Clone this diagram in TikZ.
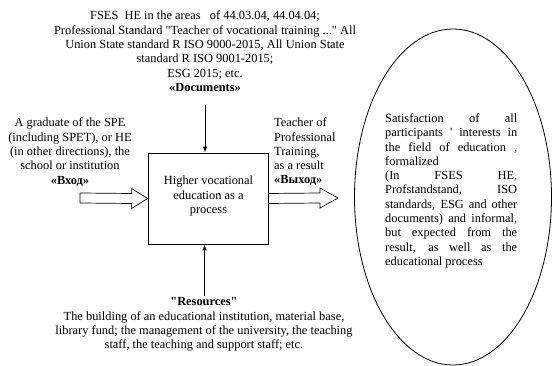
\documentclass[tikz,border=0pt]{standalone}
\usepackage{fontspec}
\setmainfont{Liberation Serif}[Ligatures=TeXOff]
\usetikzlibrary{calc,shapes.geometric,arrows.meta}
\begin{document}
\begin{tikzpicture}[x=1pt,y=-1pt,
  txt/.style={inner sep=0pt,font=\fontsize{12.4}{14.3}\selectfont,align=center},
  hollow/.style={draw,line width=0.7pt,fill=white},
  conn/.style={draw,line width=0.8pt,-{Latex[length=6pt,width=4.5pt]}}]
\useasboundingbox (0,0) rectangle (552,366);
% process box
\node[draw,line width=0.8pt,minimum width=120pt,minimum height=91pt,inner sep=0pt] (box) at (208,198.5) {};
\node[txt,anchor=base] (boxtxt) at (208.5,213.6) {Higher vocational\\education as a\\process};
% ellipse
\node[draw,ellipse,line width=0.8pt,minimum width=197pt,minimum height=336pt,inner sep=0pt] (ell) at (453,197) {};
\node[txt,align=justify,text width=132pt,anchor=base west] (elltxt) at (385,122.5)
 {Satisfaction of all\linebreak participants ' interests in\linebreak the field of education ,\linebreak
 formalized\\
 (In FSES HE,\linebreak Profstandstand, ISO\linebreak standards, ESG and other\linebreak documents) and informal,\linebreak but expected from the\linebreak result, as well as the\linebreak
 educational process};
% top text
\node[txt,anchor=base] (doc) at (205,91.5)
 {FSES\ \ HE in the areas\ \ \ of 44.03.04, 44.04.04;\\
 Professional Standard "Teacher of vocational training ..." All\\
 Union State standard R ISO 9000-2015, All Union State\\
 standard R ISO 9001-2015;\\
 ESG 2015; etc.\\
 \textbf{«Documents»}};
\coordinate (dtop) at (205,105);
\draw[conn] (dtop) -- (dtop |- box.north);
% bottom text
\node[txt,anchor=base] (res) at (204,348.9)
 {\textbf{"Resources"}\\
 The building of an educational institution, material base,\\
 library fund; the management of the university, the teaching\\
 staff, the teaching and support staff; etc.};
\coordinate (rbot) at (204.5,296);
\draw[conn] (rbot) -- (rbot |- box.south);
% left text
\node[txt,anchor=base] (inp) at (70,184.2)
 {A graduate of the SPE\\(including SPET), or HE\\(in other directions), the\\school or institution\\\textbf{«Вход»}};
% right text
\node[txt,anchor=base west,align=left] (out) at (274,184)
 {Teacher of\\Professional\\Training,\\as a result\\\textbf{«Выход»}};
% hollow input arrow
\coordinate (inTail) at (80,198);
\draw[hollow] (inTail) ++(0,-5) -- ($(box.west)+(-16,-5)$) -- ($(box.west)+(-16,-10)$) -- (box.west)
  -- ($(box.west)+(-16,10)$) -- ($(box.west)+(-16,5)$) -- ($(inTail)+(0,5)$) -- cycle;
% hollow output arrow
\coordinate (outTip) at (338,198);
\draw[hollow] (box.east) ++(0,-5) -- ($(outTip)+(-18,-5)$) -- ($(outTip)+(-18,-10)$) -- (outTip)
  -- ($(outTip)+(-18,10)$) -- ($(outTip)+(-18,5)$) -- ($(box.east)+(0,5)$) -- cycle;
\end{tikzpicture}
\end{document}
